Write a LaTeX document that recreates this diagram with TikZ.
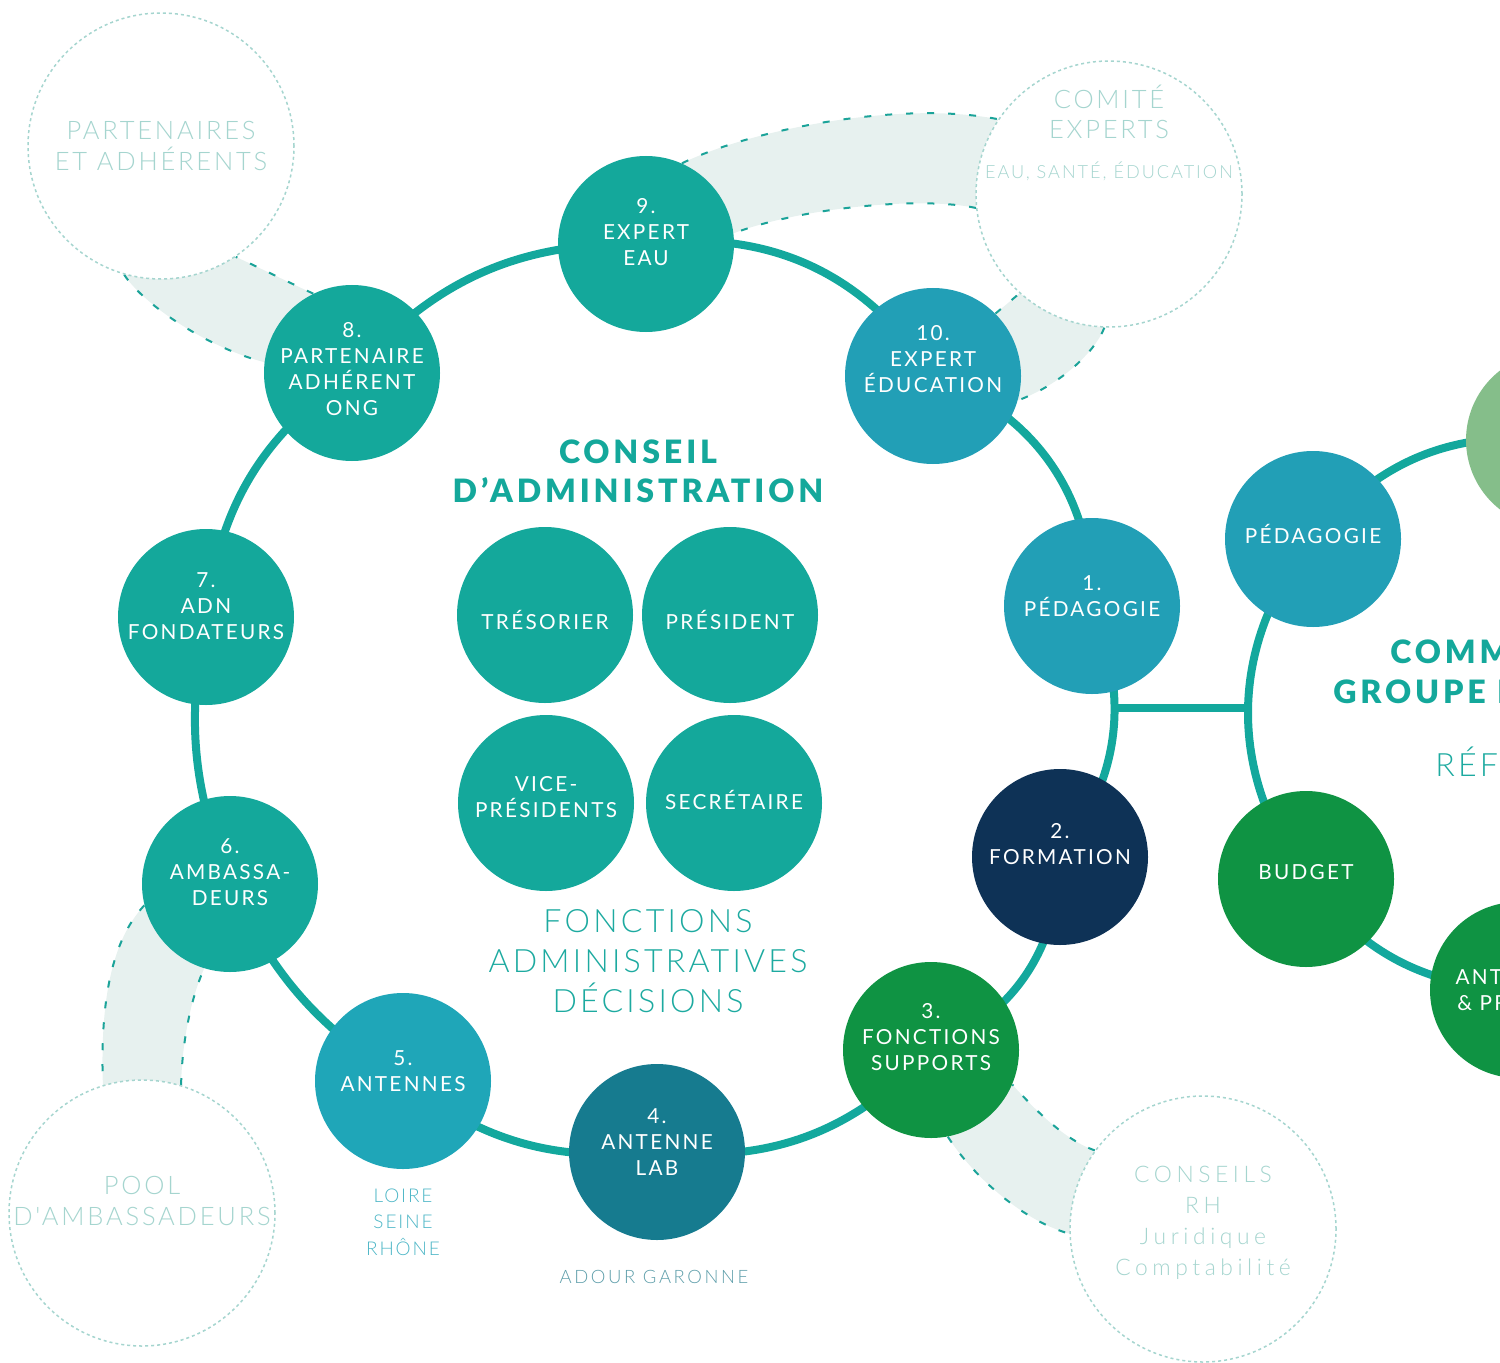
\documentclass[tikz,border=0pt]{standalone}
\usepackage{fontspec}
\usepackage{tikz}
\setmainfont{Lato}
\newfontfamily\discfont{Lato}[LetterSpace=11]
\IfFontExistsTF{Lato Light}
  {\newfontfamily\thinfont{Lato Light}[LetterSpace=10]
   \newfontfamily\ghostfont{Lato Light}[LetterSpace=11]
   \newfontfamily\adourfont{Lato Light}[LetterSpace=14]
   \newfontfamily\conseilsfont{Lato Light}[LetterSpace=20]}
  {\newfontfamily\thinfont{Lato}[LetterSpace=10]
   \newfontfamily\ghostfont{Lato}[LetterSpace=11]
   \newfontfamily\adourfont{Lato}[LetterSpace=14]
   \newfontfamily\conseilsfont{Lato}[LetterSpace=20]}
\IfFontExistsTF{Lato Black}
  {\newfontfamily\titlefont{Lato Black}[LetterSpace=12]}
  {\newfontfamily\titlefontbase{Lato}[LetterSpace=12]\newcommand*{\titlefont}{\titlefontbase\bfseries}}

\definecolor{ringc}{HTML}{13A89D}
\definecolor{tealc}{HTML}{14A89B}
\definecolor{bluec}{HTML}{229FB6}
\definecolor{cyanc}{HTML}{1FA6B8}
\definecolor{petrolc}{HTML}{167B8F}
\definecolor{navyc}{HTML}{0E3256}
\definecolor{greenc}{HTML}{0F9343}
\definecolor{lightgreenc}{HTML}{85BE8A}
\definecolor{ghostc}{HTML}{A5D5CF}
\definecolor{bandc}{HTML}{E7F1EF}
\definecolor{banddash}{HTML}{1BA399}
\definecolor{loirec}{HTML}{4DB6C6}
\definecolor{adourc}{HTML}{5E9EAA}
\definecolor{fonctc}{HTML}{1DAAA0}

\pgfdeclarelayer{background}
\pgfsetlayers{background,main}

\newcommand*{\discnode}[5]{% #1 = name, #2 = centre, #3 = colour, #4 = text shift, #5 = text
   \node[disc, fill=#3] (#1) at (#2) {};
   \node[disc text] (#1-t) at ([yshift=#4]#1.center) {#5};
}

\begin{document}
\begin{tikzpicture}[
		x=0.2mm, y=0.2mm,
		disc/.style={circle, minimum size=35.2mm, inner sep=0pt},
		disc text/.style={text=white, align=center, inner sep=0pt, font=\discfont\fontsize{11.8}{14.8}\selectfont},
		ghost/.style={circle, minimum size=53.2mm, inner sep=0pt, draw=ghostc, fill=white, line width=0.3mm, dash pattern=on 0.6mm off 0.6mm},
		ghost text/.style={text=ghostc, align=center, inner sep=0pt, font=\ghostfont\fontsize{14.5}{17.1}\selectfont},
		title text/.style={text=tealc, align=center, inner sep=0pt, font=\titlefont\fontsize{18.3}{22.2}\selectfont},
		fonct text/.style={text=fonctc, align=center, inner sep=0pt, font=\thinfont\fontsize{18.3}{22.8}\selectfont},
		ring/.style={draw=ringc, line width=1.6mm},
		band/.style={fill=bandc},
		band edge/.style={draw=banddash, line width=0.4mm, dash pattern=on 1.4mm off 2.8mm}
	]
		\useasboundingbox (0,0) rectangle (1500,-1363);
		\clip (0,0) rectangle (1500,-1363);

		% outer circles
		\node[ghost] (partners) at (161,-146) {};
		\node[ghost] (comite) at (1109,-194) {};
		\node[ghost] (pool) at (142,-1213) {};
		\node[ghost] (conseils) at (1203,-1229) {};
		\node[ghost text] (partners-t) at (161,-146) {PARTENAIRES\\ET ADHÉRENTS};
		\node[ghost text] (comite-t) at (1109,-112) {COMITÉ\\EXPERTS};
		\node[ghost text, font=\ghostfont\fontsize{10.3}{12}\selectfont] (comite-s) at (1109,-171) {EAU, SANTÉ, ÉDUCATION};
		\node[ghost text] (pool-t) at (142,-1201) {POOL\\D{\char"27}AMBASSADEURS};
		\node[ghost text, font=\conseilsfont\fontsize{13}{17.6}\selectfont] (conseils-t) at (1203,-1223) {CONSEILS\\RH\\Juridique\\Comptabilité};

		% conseil d'administration
		\discnode{n9}{646,-244}{tealc}{2.4mm}{9.\\EXPERT\\EAU}
		\discnode{n10}{933,-376}{bluec}{3.4mm}{10.\\EXPERT\\ÉDUCATION}
		\discnode{n1}{1092,-606}{bluec}{2mm}{1.\\PÉDAGOGIE}
		\discnode{n2}{1060,-857}{navyc}{2.5mm}{2.\\FORMATION}
		\discnode{n3}{931,-1050}{greenc}{2.5mm}{3.\\FONCTIONS\\SUPPORTS}
		\discnode{n4}{657,-1152}{petrolc}{1.9mm}{4.\\ANTENNE\\LAB}
		\discnode{n5}{403,-1081}{cyanc}{1.9mm}{5.\\ANTENNES}
		\discnode{n6}{230,-884}{tealc}{2.4mm}{6.\\AMBASSA-\\DEURS}
		\discnode{n7}{206,-617}{tealc}{2.2mm}{7.\\ADN\\FONDATEURS}
		\discnode{n8}{352,-373}{tealc}{0.8mm}{8.\\PARTENAIRE\\ADHÉRENT\\ONG}

		\discnode{tres}{545,-615}{tealc}{-0.9mm}{TRÉSORIER}
		\discnode{pres}{730,-615}{tealc}{-0.9mm}{PRÉSIDENT}
		\discnode{vice}{546,-803}{tealc}{1.1mm}{VICE-\\PRÉSIDENTS}
		\discnode{secr}{734,-803}{tealc}{0.7mm}{SECRÉTAIRE}

		\node[title text] (ca-t) at (638,-471) {CONSEIL\\D’ADMINISTRATION};
		\node[fonct text] (fonct-t) at (648,-961) {FONCTIONS\\ADMINISTRATIVES\\DÉCISIONS};
		\node[text=loirec, align=center, inner sep=0pt, font=\thinfont\fontsize{10.8}{15}\selectfont] (loire-t) at (403,-1222) {LOIRE\\SEINE\\RHÔNE};
		\node[text=adourc, inner sep=0pt, font=\adourfont\fontsize{10.5}{12}\selectfont] (adour-t) at (654,-1277) {ADOUR GARONNE};

		% second ring
		\discnode{pedr}{1313,-539}{bluec}{1.1mm}{PÉDAGOGIE}
		\discnode{budget}{1306,-879}{greenc}{1.3mm}{BUDGET}
		\discnode{gtop}{1554,-440}{lightgreenc}{0mm}{}
		\discnode{antp}{1518,-990}{greenc}{0mm}{ANTENNES\\\& PROJETS}
		\node[title text, anchor=west] (comm-t1) at (1390,-652) {COMMISSIONS};
		\node[title text, anchor=west] (comm-t2) at (1333,-692) {GROUPE DE TRAVAIL};
		\node[fonct text, anchor=west] (ref-t) at (1435,-762) {RÉFÉRENTS};

		\coordinate (jl) at (1114,-708);
		\coordinate (jr) at (1249,-708);

		\begin{pgfonlayer}{background}
			\fill[band] (partners.-106) .. controls (140,-300) and (200,-345) .. (n8.173)
				-- (n8.116) .. controls (290,-283) and (260,-268) .. (partners.-56) -- cycle;
			\draw[band edge] (partners.-106) .. controls (140,-300) and (200,-345) .. (n8.173);
			\draw[band edge] (n8.116) .. controls (290,-283) and (260,-268) .. (partners.-56);

			\fill[band] (n9.66) .. controls (750,-130) and (900,-100) .. (comite.146)
				-- (comite.186) .. controls (920,-196) and (800,-208) .. (n9.7) -- cycle;
			\draw[band edge] (n9.66) .. controls (750,-130) and (900,-100) .. (comite.146);
			\draw[band edge] (comite.186) .. controls (920,-196) and (800,-208) .. (n9.7);

			\fill[band] (comite.-92) .. controls (1095,-352) and (1060,-385) .. (n10.-16)
				-- (n10.45) -- (comite.-132) -- cycle;
			\draw[band edge] (comite.-92) .. controls (1095,-352) and (1060,-385) .. (n10.-16);
			\draw[band edge] (n10.45) -- (comite.-132);

			\fill[band] (n6.-166) .. controls (112,-940) and (100,-1000) .. (pool.107)
				-- (pool.73) .. controls (182,-1040) and (192,-995) .. (n6.-107) -- cycle;
			\draw[band edge] (n6.-166) .. controls (112,-940) and (100,-1000) .. (pool.107);
			\draw[band edge] (pool.73) .. controls (182,-1040) and (192,-995) .. (n6.-107);

			\fill[band] (n3.-79) .. controls (970,-1172) and (1020,-1220) .. (conseils.-178)
				-- (conseils.144) .. controls (1065,-1140) and (1035,-1110) .. (n3.-23) -- cycle;
			\draw[band edge] (n3.-79) .. controls (970,-1172) and (1020,-1220) .. (conseils.-178);
			\draw[band edge] (conseils.144) .. controls (1065,-1140) and (1035,-1110) .. (n3.-23);

			\draw[ring] (n9.center) to[bend left=32] (n10.center) to[bend left=35] (n1.center)
				to[bend left=30] (n2.center) to[bend left=33] (n3.center) to[bend left=26] (n4.center)
				to[bend left=21] (n5.center) to[bend left=16] (n6.center) to[bend left=16] (n7.center)
				to[bend left=24] (n8.center) to[bend left=25] (n9.center);
			\draw[ring] (jl) -- (jr);
			\draw[ring] (pedr.center) to[bend right=38] (budget.center);
			\draw[ring] (pedr.center) to[bend left=28] (gtop.center);
			\draw[ring] (budget.center) to[bend right=25] (antp.center);
		\end{pgfonlayer}
	\end{tikzpicture}
\end{document}
